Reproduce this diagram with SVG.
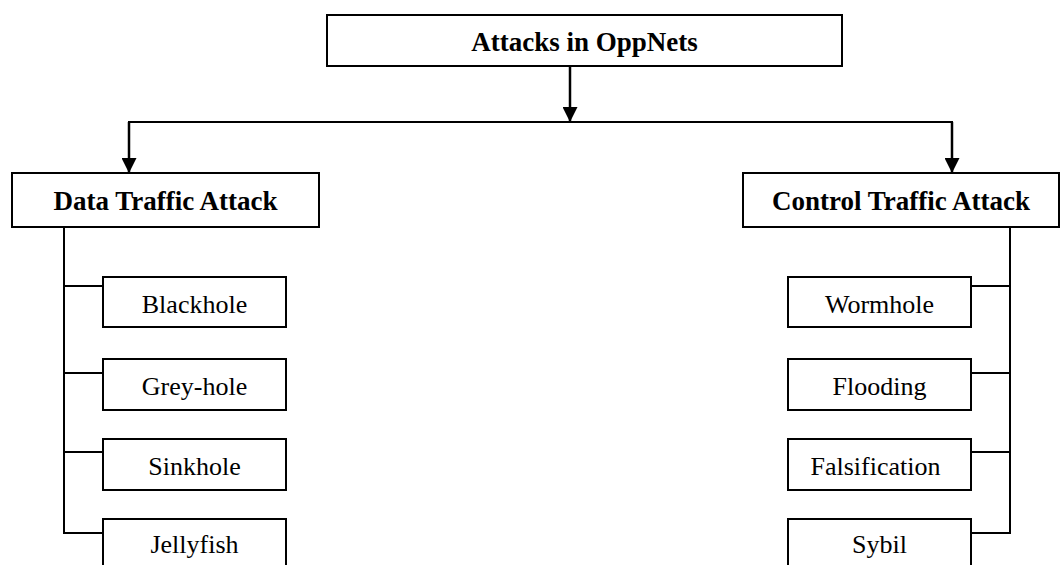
<svg xmlns="http://www.w3.org/2000/svg" width="1060" height="565" viewBox="0 0 1060 565">
  <style>
    .box { fill: #fff; stroke: #000; stroke-width: 2; }
    .title { font-family: "Liberation Serif", "Times New Roman", serif; font-weight: bold; font-size: 27px; text-anchor: middle; fill: #000; }
    .leaf { font-family: "Liberation Serif", "Times New Roman", serif; font-size: 26px; text-anchor: middle; fill: #000; }
    .wire { fill: none; stroke: #000; stroke-width: 2; }
    .arrow { fill: none; stroke: #000; stroke-width: 2.5; marker-end: url(#head); }
  </style>
  <defs>
    <marker id="head" markerWidth="6" markerHeight="6" refX="6" refY="3" orient="auto" markerUnits="strokeWidth">
      <path d="M0,0 L6,3 L0,6 Z" fill="#000"/>
    </marker>
  </defs>
  <rect width="1060" height="565" fill="#fff"/>

  <g id="connectors">
    <!-- root to splitter -->
    <line class="arrow" x1="570" y1="66" x2="570" y2="122"/>
    <line class="wire" x1="128" y1="122" x2="953" y2="122" stroke-width="2.5"/>
    <polyline class="arrow" points="129,122 129,173"/>
    <polyline class="arrow" points="952,122 952,173"/>
    <!-- data traffic branch -->
    <polyline class="wire" points="64,227 64,533 103,533"/>
    <line class="wire" x1="64" y1="286" x2="103" y2="286"/>
    <line class="wire" x1="64" y1="373" x2="103" y2="373"/>
    <line class="wire" x1="64" y1="452" x2="103" y2="452"/>
    <!-- control traffic branch -->
    <polyline class="wire" points="1010,227 1010,533 971,533"/>
    <line class="wire" x1="1010" y1="286" x2="971" y2="286"/>
    <line class="wire" x1="1010" y1="373" x2="971" y2="373"/>
    <line class="wire" x1="1010" y1="452" x2="971" y2="452"/>
  </g>

  <g id="root">
    <rect class="box" x="327" y="15" width="515" height="51"/>
    <text class="title" x="584.5" y="51">Attacks in OppNets</text>
  </g>

  <g id="data-traffic">
    <rect class="box" x="12" y="173" width="307" height="54"/>
    <text class="title" x="165.5" y="210">Data Traffic Attack</text>
  </g>
  <g id="control-traffic">
    <rect class="box" x="743" y="173" width="316" height="54"/>
    <text class="title" x="901" y="210">Control Traffic Attack</text>
  </g>

  <g id="blackhole">
    <rect class="box" x="103" y="277" width="183" height="50"/>
    <text class="leaf" x="194.5" y="313">Blackhole</text>
  </g>
  <g id="grey-hole">
    <rect class="box" x="103" y="359" width="183" height="51"/>
    <text class="leaf" x="194.5" y="395">Grey-hole</text>
  </g>
  <g id="sinkhole">
    <rect class="box" x="103" y="439" width="183" height="51"/>
    <text class="leaf" x="194.5" y="475">Sinkhole</text>
  </g>
  <g id="jellyfish">
    <rect class="box" x="103" y="519" width="183" height="51"/>
    <text class="leaf" x="194.5" y="553">Jellyfish</text>
  </g>

  <g id="wormhole">
    <rect class="box" x="788" y="277" width="183" height="50"/>
    <text class="leaf" x="879.5" y="313">Wormhole</text>
  </g>
  <g id="flooding">
    <rect class="box" x="788" y="359" width="183" height="51"/>
    <text class="leaf" x="879.5" y="395">Flooding</text>
  </g>
  <g id="falsification">
    <rect class="box" x="788" y="439" width="183" height="51"/>
    <text class="leaf" x="875.5" y="475">Falsification</text>
  </g>
  <g id="sybil">
    <rect class="box" x="788" y="519" width="183" height="51"/>
    <text class="leaf" x="879.5" y="553">Sybil</text>
  </g>
</svg>
